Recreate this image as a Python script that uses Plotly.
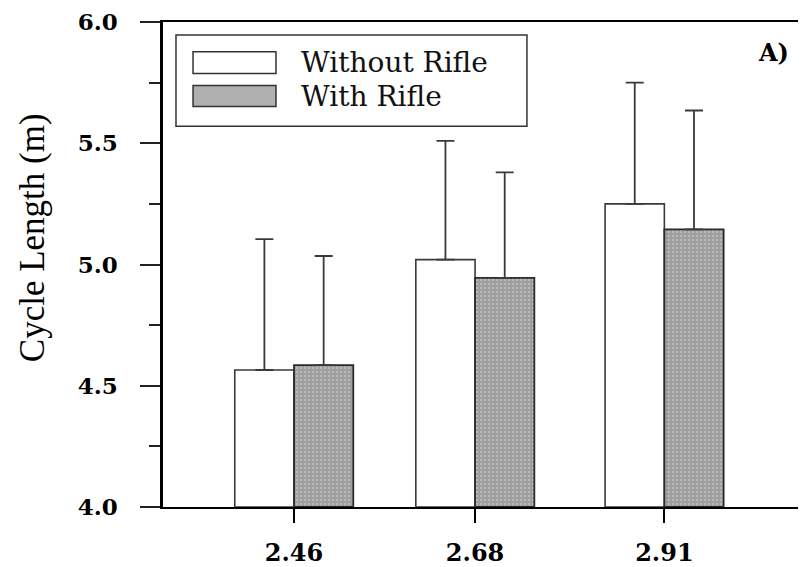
import plotly.graph_objects as go

# ---- data ----
speeds = [2.46, 2.68, 2.91]
tick_labels = ["2.46", "2.68", "2.91"]
without_rifle = [4.565, 5.02, 5.25]
without_rifle_sd = [0.54, 0.49, 0.50]
with_rifle = [4.585, 4.945, 5.145]
with_rifle_sd = [0.45, 0.435, 0.49]

BAR_W = 0.072
SERIF = "Liberation Serif"
WIDE = "DejaVu Serif"

fig = go.Figure()
fig.add_trace(go.Bar(
    x=speeds, y=[v - 4.0 for v in without_rifle], base=4.0,
    width=BAR_W, offset=-BAR_W, name="Without Rifle",
    marker=dict(color="white", line=dict(color="#3a3a3a", width=1.6)),
    error_y=dict(type="data", array=without_rifle_sd, arrayminus=[0, 0, 0],
                 symmetric=False, color="#3a3a3a", thickness=1.8, width=9),
    showlegend=False,
))
fig.add_trace(go.Bar(
    x=speeds, y=[v - 4.0 for v in with_rifle], base=4.0,
    width=BAR_W, offset=0, name="With Rifle",
    marker=dict(color="#9c9c9c", line=dict(color="#2a2a2a", width=1.8),
                pattern=dict(shape=".", bgcolor="#9c9c9c", fgcolor="#d4d4d4",
                             size=4, solidity=0.35)),
    error_y=dict(type="data", array=with_rifle_sd, arrayminus=[0, 0, 0],
                 symmetric=False, color="#3a3a3a", thickness=1.8, width=9),
    showlegend=False,
))

# manual legend (paper coordinates)
fig.add_shape(type="rect", xref="paper", yref="paper", x0=0.0202, x1=0.566,
              y0=0.785, y1=0.973, line=dict(color="#333", width=1.5), fillcolor="white", layer="above")
fig.add_shape(type="rect", xref="paper", yref="paper", x0=0.0467, x1=0.1757,
              y0=0.8937, y1=0.9387, line=dict(color="#333", width=1.5), fillcolor="white", layer="above")
fig.add_shape(type="rect", xref="paper", yref="paper", x0=0.0467, x1=0.1757,
              y0=0.826, y1=0.869, line=dict(color="#333", width=1.5), fillcolor="#b0b0b0", layer="above")
fig.add_annotation(xref="paper", yref="paper", x=0.2115, y=0.916, xanchor="left", yanchor="middle",
                   text="Without Rifle", showarrow=False, font=dict(family=WIDE, size=28, color="#111"))
fig.add_annotation(xref="paper", yref="paper", x=0.2115, y=0.847, xanchor="left", yanchor="middle",
                   text="With Rifle", showarrow=False, font=dict(family=WIDE, size=28, color="#111"))

# panel label
fig.add_annotation(xref="paper", yref="paper", x=(773 - 163) / 643, y=(509 - 51) / 489,
                   xanchor="center", yanchor="middle",
                   text="<b>A)</b>", showarrow=False, font=dict(family=WIDE, size=24, color="black"))

# y-axis title
fig.add_annotation(xref="paper", yref="paper", x=(32 - 163) / 643, y=(509 - 238) / 489,
                   xanchor="center", yanchor="middle",
                   text="Cycle Length (m)", textangle=-90, showarrow=False,
                   font=dict(family=SERIF, size=35, color="black"))

fig.update_layout(
    width=798, height=559,
    margin=dict(l=155, r=0, t=12, b=58),
    paper_bgcolor="white", plot_bgcolor="white",
    barmode="overlay",
    xaxis=dict(
        range=[2.3008, 3.0821], tickmode="array", tickvals=speeds, ticktext=tick_labels,
        ticks="outside", ticklen=14, tickwidth=2, tickcolor="black",
        showline=True, linecolor="black", linewidth=2, mirror=True,
        showgrid=False, zeroline=False, ticklabelstandoff=9,
        ticklabeloverflow="allow",
        tickfont=dict(family=WIDE, size=24, color="black", weight="bold"),
    ),
    yaxis=dict(
        range=[4.0, 6.0], tickmode="array", tickvals=[4.0, 4.5, 5.0, 5.5, 6.0],
        ticktext=["4.0", "4.5", "5.0", "5.5", "6.0"],
        ticks="outside", ticklen=20, tickwidth=2, tickcolor="#222",
        minor=dict(tickmode="array", tickvals=[4.25, 4.75, 5.25, 5.75],
                   ticks="outside", ticklen=11, tickwidth=2, tickcolor="#222"),
        showline=True, linecolor="black", linewidth=2.5, mirror=False,
        showgrid=False, zeroline=False, ticklabelstandoff=18,
        ticklabeloverflow="allow",
        tickfont=dict(family=WIDE, size=23, color="black", weight="bold"),
    ),
)

fig.write_html("out.html")
